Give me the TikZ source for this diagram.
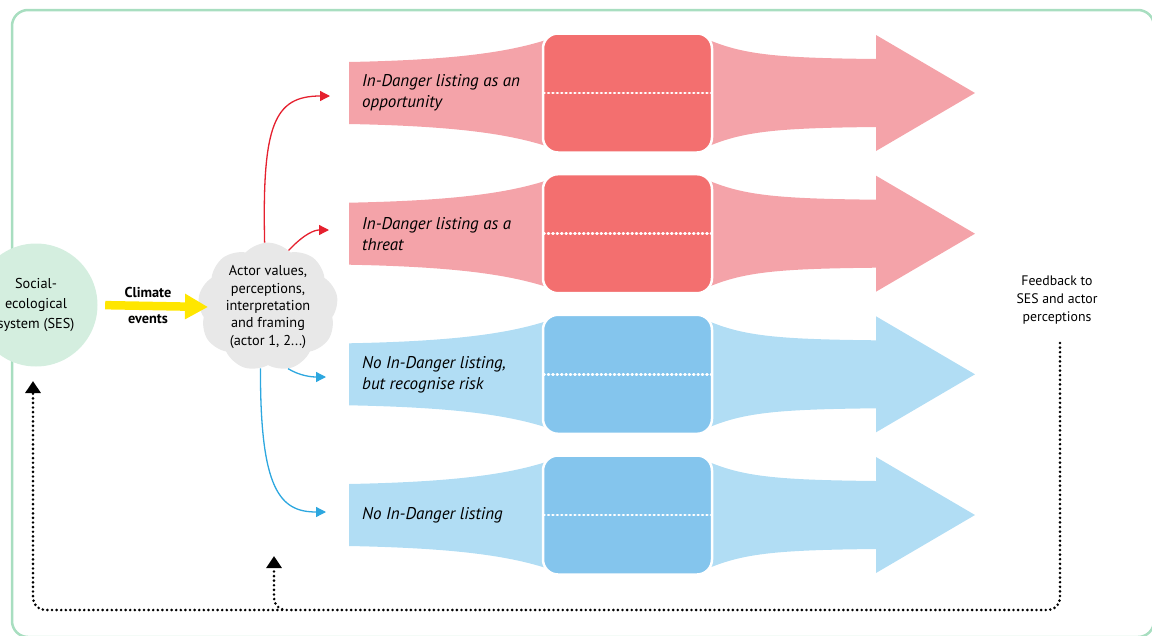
\documentclass[tikz,border=0pt]{standalone}
\usepackage{fontspec}
\setmainfont{PT Sans}
\usetikzlibrary{arrows.meta,shapes.symbols}

\definecolor{framegreen}{HTML}{A8DEC0}
\definecolor{sesgreen}{HTML}{D4EEDF}
\definecolor{cloudgray}{HTML}{E8E8E8}
\definecolor{climateyellow}{HTML}{FFE600}
\definecolor{redband}{HTML}{F4A3A9}
\definecolor{redbox}{HTML}{F36F6F}
\definecolor{blueband}{HTML}{B1DDF4}
\definecolor{bluebox}{HTML}{84C5ED}
\definecolor{redline}{HTML}{E5202E}
\definecolor{blueline}{HTML}{2DA7DF}

\tikzset{
  outbox/.style={draw=white, line width=2.5pt, rounded corners=15pt,
    minimum width=169pt, minimum height=119pt, inner sep=0pt},
  midline/.style={white, line width=2.8pt, line cap=round,
    dash pattern=on 0.8pt off 3.6pt},
  rowtext/.style={anchor=west, align=left, inner sep=0pt,
    font=\itshape\fontsize{17}{21}\selectfont},
  choice/.style={line width=1.3pt, -{Triangle[length=10pt,width=10pt]}},
  feedback/.style={line width=2.9pt, line cap=round,
    dash pattern=on 0pt off 4.6pt, rounded corners=12pt},
  fbtip/.style={-{Triangle[length=12pt,width=15pt]}},
  smalltext/.style={align=center, inner sep=0pt},
}

% one outcome row: name, centre y, band colour, box colour, label
\newcommand\outcome[5]{%
  \fill[#3] (349,#2-31) .. controls (450,#2-33) and (505,#2-40) .. (546,#2-53)
    -- (546,#2+53) .. controls (505,#2+40) and (450,#2+33) .. (349,#2+31) -- cycle;
  \fill[#3] (709,#2-53) .. controls (745,#2-38) and (780,#2-35) .. (876,#2-34)
    -- (876,#2-58) -- (975,#2) -- (876,#2+58) -- (876,#2+34)
    .. controls (780,#2+35) and (745,#2+38) .. (709,#2+53) -- cycle;
  \node[outbox, fill=#4] (box#1) at (627.5,#2) {};
  \draw[midline] ([xshift=2pt]box#1.west) -- ([xshift=2pt]box#1.east);
  \node[rowtext] (txt#1) at (362,#2) {#5};
}

\begin{document}
\begin{tikzpicture}[x=1pt,y=-1pt]
\useasboundingbox (0,0) rectangle (1152,635);
\clip (0,0) rectangle (1152,635);

% outer frame
\draw[framegreen, line width=2.5pt, rounded corners=16pt] (12,10) rectangle (1154,637);

% outcome rows
\outcome{1}{93}{redband}{redbox}{In-Danger listing as an\\opportunity}
\outcome{2}{233.7}{redband}{redbox}{In-Danger listing as a\\threat}
\outcome{3}{374.3}{blueband}{bluebox}{No In-Danger listing,\\but recognise risk}
\outcome{4}{515}{blueband}{bluebox}{No In-Danger listing}

% social-ecological system
\node[circle, fill=sesgreen, minimum size=123pt, inner sep=0pt, align=center,
      font=\fontsize{14.3}{20}\selectfont] (ses) at (36,305) {Social-\\ecological\\system (SES)};

% actor cloud
\node[cloud, cloud puffs=9, cloud puff arc=95, aspect=1.05, fill=cloudgray,
      minimum width=140pt, minimum height=128pt, inner sep=0pt, align=center,
      font=\fontsize{14.3}{17.4}\selectfont] (cloud) at (268,307)
      {Actor values,\\perceptions,\\interpretation\\and framing\\(actor 1, 2...)};

% climate events
\draw[climateyellow, line width=8.5pt, -{Triangle[length=23pt,width=24pt]},
      shorten <=7.5pt] (ses.east) -- ([xshift=9pt]cloud.west);
\node[smalltext, font=\bfseries\fontsize{14.3}{16}\selectfont] (clim) at (148,292) {Climate};
\node[smalltext, font=\bfseries\fontsize{14.3}{16}\selectfont] (ev) at (148,319) {events};

% choices of the actors
\coordinate (in1) at (330,96);
\coordinate (in2) at (329,230);
\coordinate (in3) at (326,377);
\coordinate (in4) at (326,512);
\draw[choice, redline] (cloud.93) .. controls (262,125) and (274,96) .. (in1);
\draw[choice, redline] (cloud.70) .. controls (305,233) and (315,230) .. (in2);
\draw[choice, blueline] (cloud.-72) .. controls (300,376) and (312,377) .. (in3);
\draw[choice, blueline] (cloud.-97) .. controls (260,490) and (280,512) .. (in4);

% feedback loop
\node[smalltext, font=\fontsize{13.8}{18}\selectfont] (fbtext) at (1057,300)
      {Feedback to\\SES and actor\\perceptions};
\coordinate (fbstart) at (1060,343);
\coordinate (toses) at (33,381);
\coordinate (toactor) at (274,556);
\draw[feedback, fbtip] (fbstart) -- (1060,610) -- (274,610) -- (toactor);
\draw[feedback, fbtip] (282,610) -- (33,610) -- (toses);
\end{tikzpicture}
\end{document}
